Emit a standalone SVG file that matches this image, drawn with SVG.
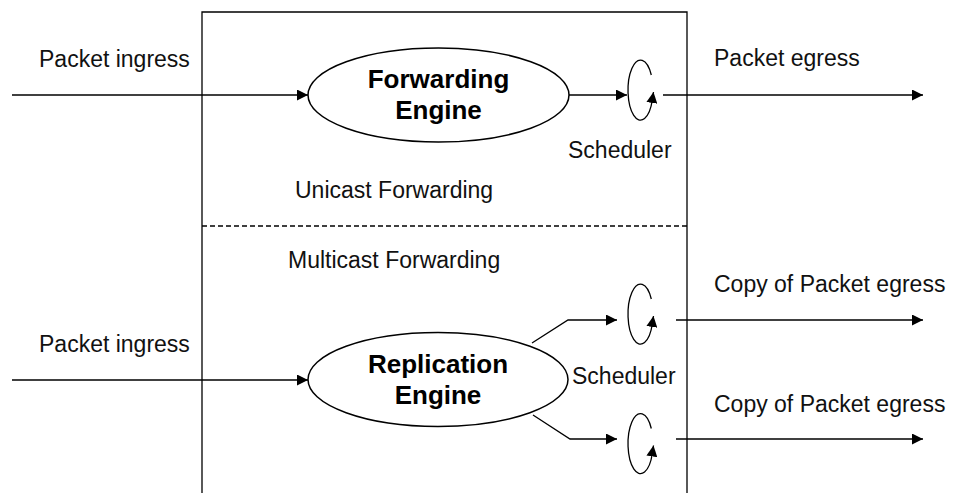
<svg xmlns="http://www.w3.org/2000/svg" width="953" height="493" viewBox="0 0 953 493">
<defs>
<marker id="ah" viewBox="0 0 10 10" refX="10" refY="5" markerWidth="11" markerHeight="11" markerUnits="userSpaceOnUse" orient="auto">
<path d="M0,0 L10,5 L0,10 Z" fill="#000"/>
</marker>
</defs>
<style>
.ln{stroke:#000;stroke-width:1.3;fill:none}
.lbl{font-family:"Liberation Sans",Arial,sans-serif;font-size:23px;fill:#111}
.bold{font-family:"Liberation Sans",Arial,sans-serif;font-size:26px;font-weight:bold;fill:#000;text-anchor:middle}
.node{fill:#fff;stroke:#000;stroke-width:1.5}
</style>
<rect width="953" height="493" fill="#fff"/>
<g id="frame">
<path class="ln" d="M202,493 V12 H687 V493"/>
<line class="ln" x1="202" y1="226" x2="687" y2="226" stroke-dasharray="5,3"/>
<text class="lbl" x="295" y="198">Unicast Forwarding</text>
<text class="lbl" x="288" y="268">Multicast Forwarding</text>
</g>
<g id="connectors">
<line class="ln" x1="12" y1="95" x2="308" y2="95" marker-end="url(#ah)"/>
<line class="ln" x1="12" y1="380" x2="308" y2="380" marker-end="url(#ah)"/>
<line class="ln" x1="569" y1="95" x2="627" y2="95" marker-end="url(#ah)"/>
<polyline class="ln" points="532,343 568,320 617,320" marker-end="url(#ah)"/>
<polyline class="ln" points="533,415 570,439 617,439" marker-end="url(#ah)"/>
<line class="ln" x1="663" y1="95" x2="923" y2="95" marker-end="url(#ah)"/>
<line class="ln" x1="676" y1="320" x2="923" y2="320" marker-end="url(#ah)"/>
<line class="ln" x1="676" y1="439" x2="923" y2="439" marker-end="url(#ah)"/>
</g>
<g id="labels">
<text class="lbl" x="39" y="67">Packet ingress</text>
<text class="lbl" x="39" y="352">Packet ingress</text>
<text class="lbl" x="714" y="66">Packet egress</text>
<text class="lbl" x="714" y="292">Copy of Packet egress</text>
<text class="lbl" x="714" y="412">Copy of Packet egress</text>
</g>
<g id="forwarding-engine">
<ellipse class="node" cx="438.5" cy="95" rx="130.5" ry="47"/>
<text class="bold" x="438.5" y="88">Forwarding</text>
<text class="bold" x="438.5" y="119">Engine</text>
</g>
<g id="replication-engine">
<ellipse class="node" cx="438" cy="379.5" rx="130" ry="47"/>
<text class="bold" x="438" y="373">Replication</text>
<text class="bold" x="438" y="404">Engine</text>
</g>
<g id="scheduler-unicast">
<path class="ln" d="M651.3,75 A12.5,30 0 1 0 652.3,100 L653.5,92" marker-end="url(#ah)"/>
<text class="lbl" x="568" y="158">Scheduler</text>
</g>
<g id="scheduler-multicast-1">
<path class="ln" d="M651.3,299 A12.5,30 0 1 0 652.3,324 L653.5,316" marker-end="url(#ah)"/>
</g>
<text class="lbl" x="572" y="384">Scheduler</text>
<g id="scheduler-multicast-2">
<path class="ln" d="M651.3,428.5 A12.5,30 0 1 0 652.3,453.5 L653.5,445.5" marker-end="url(#ah)"/>
</g>
</svg>
